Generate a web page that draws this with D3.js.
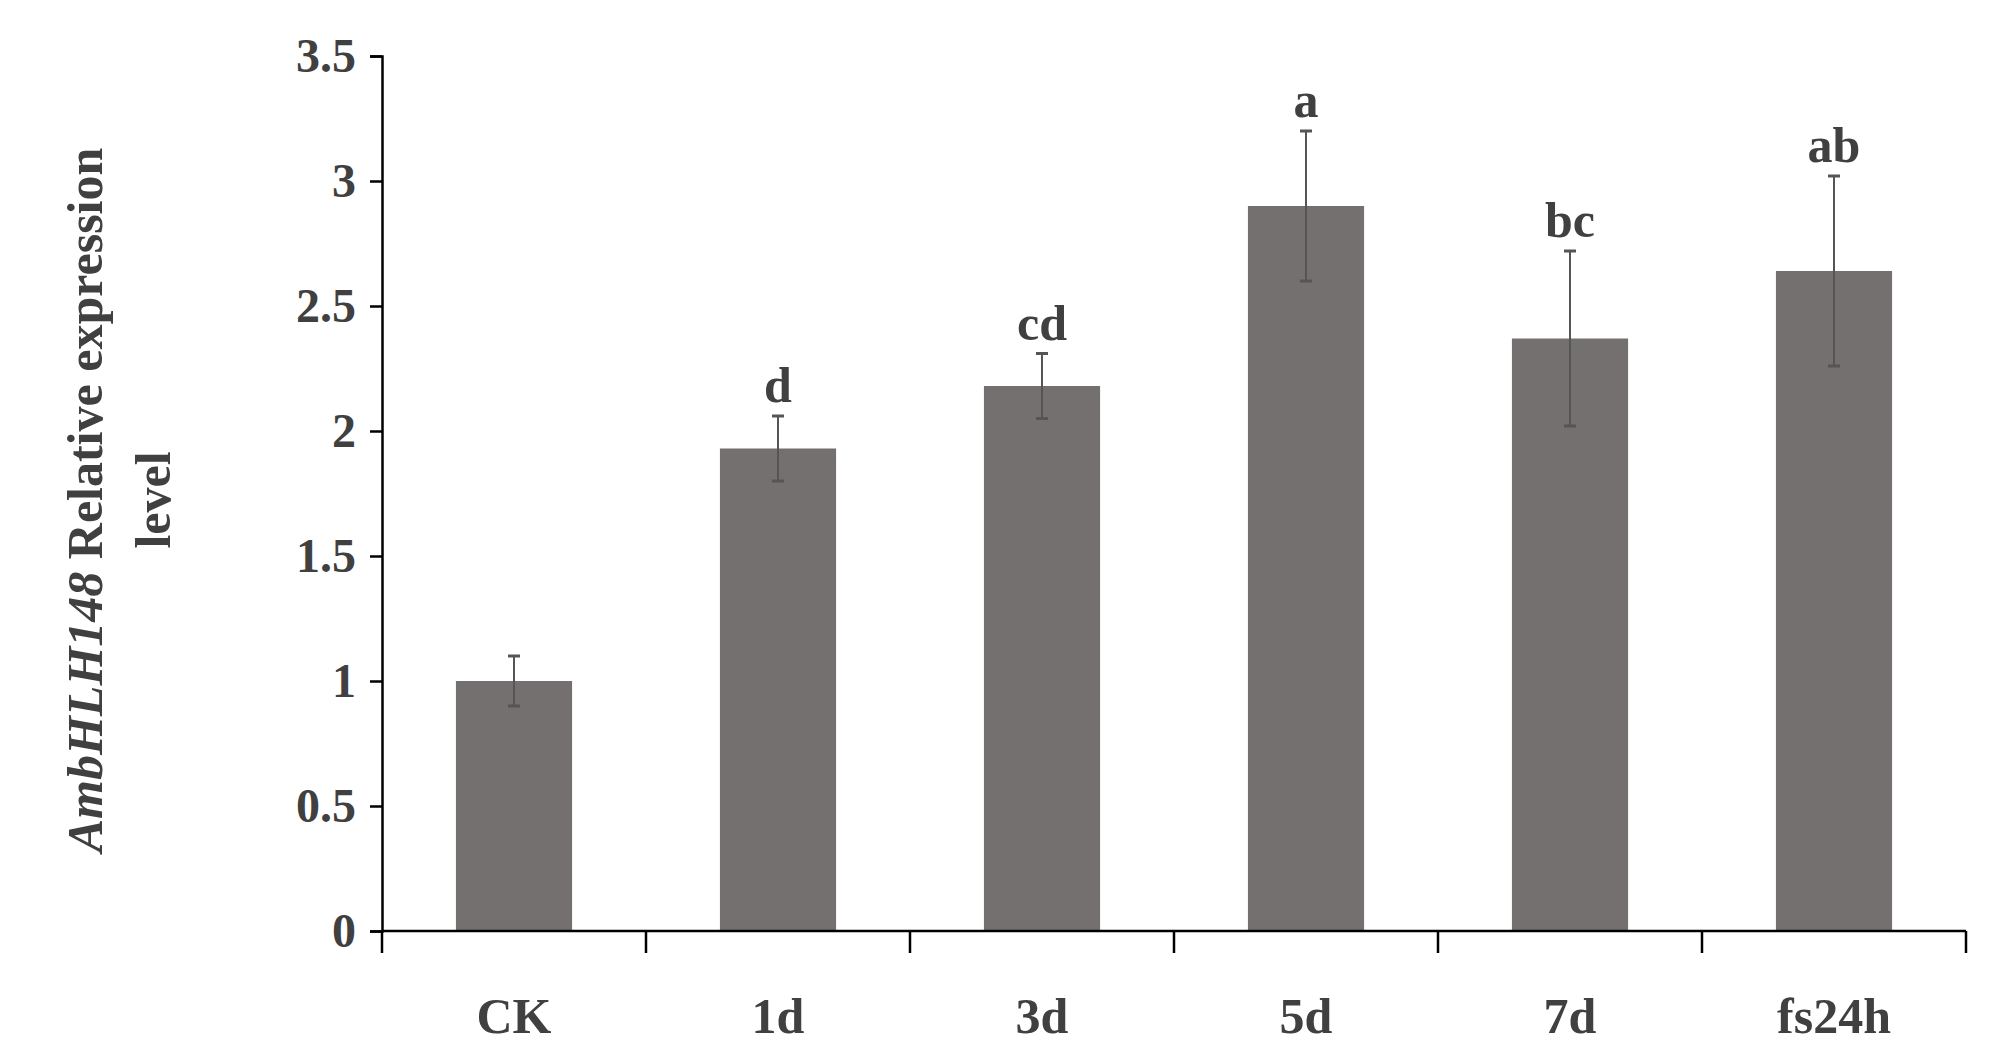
<!DOCTYPE html>
<html><head><meta charset="utf-8">
<script src="https://cdn.jsdelivr.net/npm/d3@7"></script>
<style>body{margin:0;background:#fff}</style></head>
<body><svg id="chart" width="1998" height="1055"></svg>
<script>
const categories = ["CK", "1d", "3d", "5d", "7d", "fs24h"];
const values = [1.0, 1.93, 2.18, 2.9, 2.37, 2.64];
const errors = [0.1, 0.13, 0.13, 0.3, 0.35, 0.38];
const letters = ["", "d", "cd", "a", "bc", "ab"];
const yTicks = [0, 0.5, 1, 1.5, 2, 2.5, 3, 3.5];

const svg = d3.select("#chart");
const mLeft = 382, mRight = 1966, mTop = 56, mBottom = 931;
const font = "'Liberation Serif', 'Times New Roman', serif";
const ink = "#404040";

const x = d3.scaleBand().domain(categories).range([mLeft, mRight]).paddingInner(0.56).paddingOuter(0.28);
const y = d3.scaleLinear().domain([0, 3.5]).range([mBottom, mTop]);

// bars
svg.selectAll("rect.bar").data(values).enter().append("rect")
    .attr("x", (d, i) => x(categories[i]))
    .attr("y", d => y(d))
    .attr("width", x.bandwidth())
    .attr("height", d => mBottom - y(d))
    .attr("fill", "#757070");

// error bars + letters
const eb = svg.append("g").attr("stroke", "#555").attr("stroke-width", 2);
values.forEach((v, i) => {
    const cx = x(categories[i]) + x.bandwidth() / 2;
    eb.append("line").attr("x1", cx).attr("x2", cx).attr("y1", y(v - errors[i])).attr("y2", y(v + errors[i]));
    [v - errors[i], v + errors[i]].forEach(e => {
        eb.append("line").attr("x1", cx - 6).attr("x2", cx + 6).attr("y1", y(e)).attr("y2", y(e)).attr("stroke-width", 3);
    });
    svg.append("text").attr("x", cx).attr("y", y(v + errors[i]) - 14)
        .attr("text-anchor", "middle").attr("font-family", font).attr("font-weight", "bold")
        .attr("font-size", 50).attr("fill", ink).text(letters[i]);
});

// y axis
const yAxis = svg.append("g").attr("transform", `translate(${mLeft},0)`)
    .call(d3.axisLeft(y).tickValues(yTicks).tickSize(12).tickPadding(14).tickFormat(d => d));
yAxis.select(".domain").attr("stroke", "#000").attr("stroke-width", 2.5);
yAxis.selectAll(".tick line").attr("stroke", "#000").attr("stroke-width", 2.5);
yAxis.selectAll("text").attr("font-family", font).attr("font-weight", "bold")
    .attr("font-size", 48).attr("fill", ink).attr("dy", "0.33em");

// x axis line with boundary ticks
const xg = svg.append("g");
xg.append("line").attr("x1", mLeft).attr("x2", mRight).attr("y1", mBottom).attr("y2", mBottom)
    .attr("stroke", "#000").attr("stroke-width", 2.5);
const step = (mRight - mLeft) / categories.length;
d3.range(categories.length + 1).forEach(i => {
    xg.append("line").attr("x1", mLeft + i * step).attr("x2", mLeft + i * step)
        .attr("y1", mBottom).attr("y2", mBottom + 22).attr("stroke", "#000").attr("stroke-width", 2.5);
});
categories.forEach(c => {
    xg.append("text").attr("x", x(c) + x.bandwidth() / 2).attr("y", 1033)
        .attr("text-anchor", "middle").attr("font-family", font).attr("font-weight", "bold")
        .attr("font-size", 50).attr("fill", ink).text(c);
});

// y title
const t = svg.append("text").attr("transform", "translate(102,500) rotate(-90)")
    .attr("text-anchor", "middle").attr("font-family", font).attr("font-weight", "bold")
    .attr("font-size", 50).attr("fill", ink);
t.append("tspan").attr("font-style", "italic").text("AmbHLH148");
t.append("tspan").text(" Relative expression");
svg.append("text").attr("transform", "translate(170,500) rotate(-90)")
    .attr("text-anchor", "middle").attr("font-family", font).attr("font-weight", "bold")
    .attr("font-size", 50).attr("fill", ink).text("level");
</script></body></html>
